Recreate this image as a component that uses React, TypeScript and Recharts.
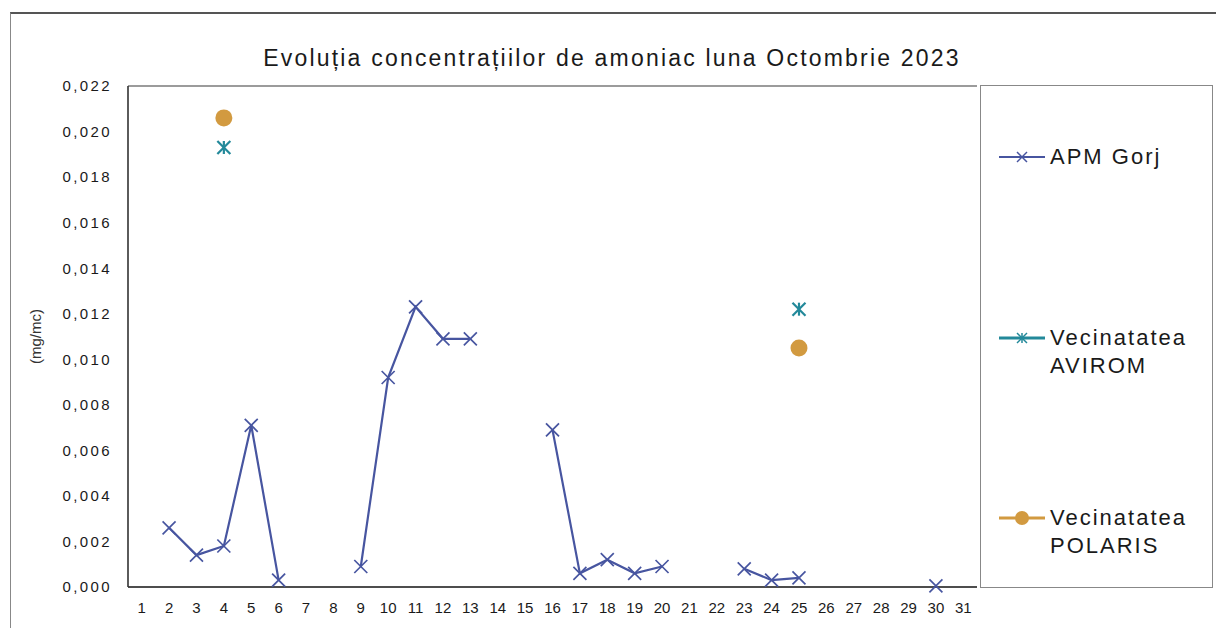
import React from 'react';
import { LineChart, Line, XAxis, YAxis, CartesianGrid } from 'recharts';

const days: number[] = Array.from({ length: 31 }, (_, i) => i + 1);

const apmGorj: (number | null)[] = [
  null, 0.0026, 0.0014, 0.0018, 0.0071, 0.0003, null, null, 0.0009, 0.0092,
  0.0123, 0.0109, 0.0109, null, null, 0.0069, 0.0006, 0.0012, 0.0006, 0.0009,
  null, null, 0.0008, 0.0003, 0.0004, null, null, null, null, 0.00005, null,
];

const avirom: (number | null)[] = [
  null, null, null, 0.0193, null, null, null, null, null, null,
  null, null, null, null, null, null, null, null, null, null,
  null, null, null, null, 0.0122, null, null, null, null, null, null,
];

const polaris: (number | null)[] = [
  null, null, null, 0.0206, null, null, null, null, null, null,
  null, null, null, null, null, null, null, null, null, null,
  null, null, null, null, 0.0105, null, null, null, null, null, null,
];

const yTicks: number[] = [0, 0.002, 0.004, 0.006, 0.008, 0.01, 0.012, 0.014, 0.016, 0.018, 0.02, 0.022];

const seriesNames = ['APM Gorj', 'Vecinatatea AVIROM', 'Vecinatatea POLARIS'];
const COLORS = { apm: '#4755a0', avirom: '#23899a', polaris: '#d29a40' };

const data = days.map((d, i) => ({ day: d, apm: apmGorj[i], avirom: avirom[i], polaris: polaris[i] }));

const W = 1216;
const H = 628;
const PLOT_LEFT = 128;
const PLOT_RIGHT = 977;
const PLOT_TOP = 86;
const PLOT_BOTTOM = 587;
const PAD = (PLOT_RIGHT - PLOT_LEFT) / 62;
const FONT = '"Liberation Sans", Arial, sans-serif';

const CrossDot = (props: any) => {
  const { cx, cy, value, stroke } = props;
  if (cx == null || cy == null || value == null) return <g />;
  const s = 6.5;
  return (
    <g stroke={stroke} strokeWidth={1.7} fill="none">
      <line x1={cx - s} y1={cy - s} x2={cx + s} y2={cy + s} />
      <line x1={cx - s} y1={cy + s} x2={cx + s} y2={cy - s} />
    </g>
  );
};

const StarDot = (props: any) => {
  const { cx, cy, value, stroke } = props;
  if (cx == null || cy == null || value == null) return <g />;
  const s = 6.5;
  return (
    <g stroke={stroke} strokeWidth={2.2} fill="none">
      <line x1={cx - s} y1={cy - s} x2={cx + s} y2={cy + s} />
      <line x1={cx - s} y1={cy + s} x2={cx + s} y2={cy - s} />
      <line x1={cx} y1={cy - s} x2={cx} y2={cy + s} />
    </g>
  );
};

const CircleDot = (props: any) => {
  const { cx, cy, value, fill } = props;
  if (cx == null || cy == null || value == null) return <g />;
  return <circle cx={cx} cy={cy} r={8.5} fill={fill} stroke="none" />;
};

const fmt = (v: number) => v.toFixed(3).replace('.', ',');

const LegendIcon = ({ kind, color }: { kind: string; color: string }) => (
  <svg width={50} height={28} style={{ flex: 'none' }}>
    <line x1={1} y1={14} x2={47} y2={14} stroke={color} strokeWidth={kind === 'apm' ? 2 : 3} />
    {kind === 'apm' && (
      <g stroke={color} strokeWidth={1.5}>
        <line x1={19} y1={9} x2={29} y2={19} />
        <line x1={19} y1={19} x2={29} y2={9} />
      </g>
    )}
    {kind === 'avirom' && (
      <g stroke={color} strokeWidth={1.5}>
        <line x1={19} y1={9} x2={29} y2={19} />
        <line x1={19} y1={19} x2={29} y2={9} />
        <line x1={24} y1={9} x2={24} y2={19} />
      </g>
    )}
    {kind === 'polaris' && <circle cx={24} cy={14} r={7} fill={color} />}
  </svg>
);

const legendItems = [
  { kind: 'apm', color: COLORS.apm, lines: [seriesNames[0]], top: 143 },
  { kind: 'avirom', color: COLORS.avirom, lines: ['Vecinatatea', 'AVIROM'], top: 324 },
  { kind: 'polaris', color: COLORS.polaris, lines: ['Vecinatatea', 'POLARIS'], top: 504 },
];

export default function App() {
  return (
    <div style={{ position: 'absolute', left: 0, top: 0, width: W, height: H, background: '#fff', overflow: 'hidden', fontFamily: FONT }}>
      {/* outer frame */}
      <div style={{ position: 'absolute', left: 10, top: 12, width: W, height: H, borderTop: '2px solid #555', borderLeft: '1.5px solid #888' }} />
      {/* title */}
      <div style={{ position: 'absolute', left: 0, width: 1224, top: 45, textAlign: 'center', fontSize: 23, letterSpacing: 2.2, color: '#1a1a1a', whiteSpace: 'nowrap' }}>
        Evoluția concentrațiilor de amoniac luna Octombrie 2023
      </div>
      <div style={{ position: 'absolute', left: 0, top: 0 }}>
        <LineChart
          width={W}
          height={H}
          data={data}
          margin={{ top: PLOT_TOP, right: W - PLOT_RIGHT, bottom: 0, left: 0 }}
        >
          <CartesianGrid vertical={false} stroke="#7a7a7a" strokeWidth={1.4} />
          <XAxis
            dataKey="day"
            type="category"
            interval={0}
            padding={{ left: PAD, right: PAD }}
            tickLine={false}
            tickSize={6}
            tickMargin={9}
            axisLine={{ stroke: '#333', strokeWidth: 1.6 }}
            tick={{ fontSize: 15, fill: '#1a1a1a', fontFamily: FONT }}
            height={H - PLOT_BOTTOM}
          />
          <YAxis
            yAxisId="left"
            type="number"
            domain={[0, 0.022]}
            ticks={yTicks}
            interval={0}
            tickFormatter={fmt}
            width={PLOT_LEFT}
            tickLine={false}
            tickSize={8}
            tickMargin={8}
            axisLine={{ stroke: '#333', strokeWidth: 1.6 }}
            tick={{ fontSize: 15, fill: '#1a1a1a', fontFamily: FONT, letterSpacing: 2.4 }}
            label={{ value: '(mg/mc)', angle: -90, position: 'insideLeft', offset: 36, style: { textAnchor: 'middle', fontSize: 15, fill: '#333', fontFamily: FONT } }}
          />
          <YAxis
            yAxisId="right"
            orientation="right"
            type="number"
            domain={[0, 0.022]}
            width={0}
            tick={false}
            tickLine={false}
            axisLine={{ stroke: '#999', strokeWidth: 1.5 }}
          />
          <Line
            yAxisId="left"
            dataKey="apm"
            name={seriesNames[0]}
            stroke={COLORS.apm}
            strokeWidth={2.2}
            dot={<CrossDot />}
            connectNulls={false}
            isAnimationActive={false}
          />
          <Line
            yAxisId="left"
            dataKey="avirom"
            name={seriesNames[1]}
            stroke={COLORS.avirom}
            strokeWidth={2}
            dot={<StarDot />}
            connectNulls={false}
            isAnimationActive={false}
          />
          <Line
            yAxisId="left"
            dataKey="polaris"
            name={seriesNames[2]}
            stroke={COLORS.polaris}
            fill={COLORS.polaris}
            strokeWidth={2}
            dot={<CircleDot />}
            connectNulls={false}
            isAnimationActive={false}
          />
        </LineChart>
      </div>
      {/* legend */}
      <div style={{ position: 'absolute', left: 980, top: 85, width: 231, height: 501, border: '1.5px solid #888' }} />
      {legendItems.map((it) => (
        <div key={it.kind} style={{ position: 'absolute', left: 998, top: it.top, display: 'flex', alignItems: 'flex-start' }}>
          <LegendIcon kind={it.kind} color={it.color} />
          <div style={{ fontSize: 22, lineHeight: '28px', color: '#1a1a1a', letterSpacing: 2, marginLeft: 2 }}>
            {it.lines.map((l) => (
              <div key={l}>{l}</div>
            ))}
          </div>
        </div>
      ))}
    </div>
  );
}
